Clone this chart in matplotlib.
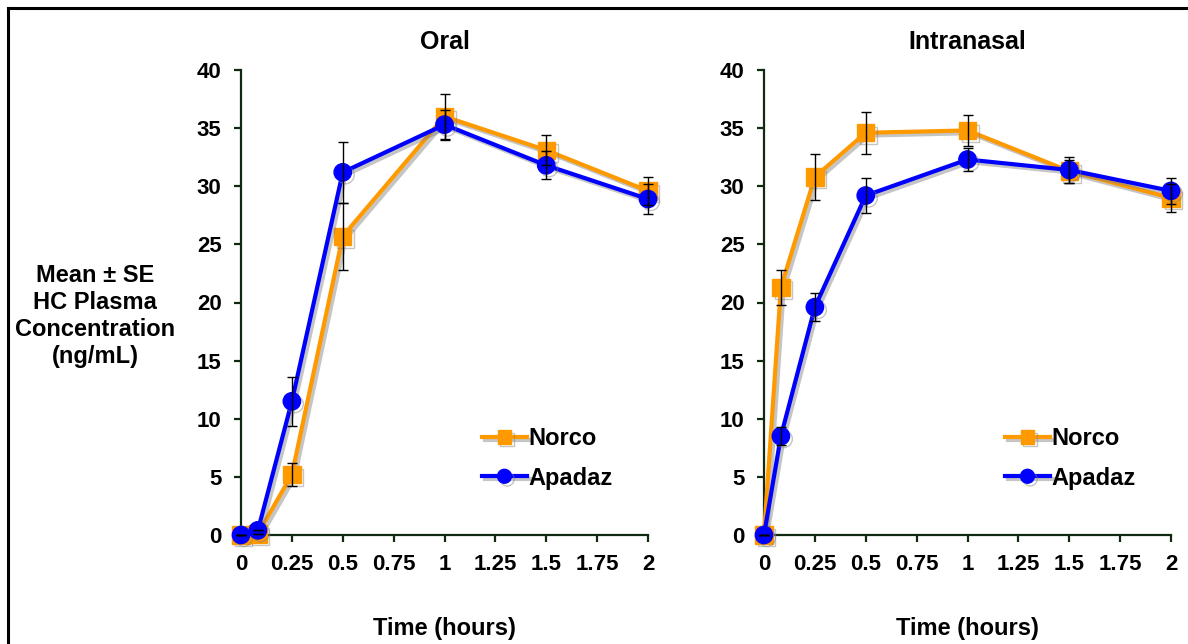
import numpy as np
import matplotlib
matplotlib.use("Agg")
import matplotlib.pyplot as plt
import matplotlib.patheffects as pe
from matplotlib.lines import Line2D

plt.rcParams["font.family"] = ["Liberation Sans", "DejaVu Sans"]
plt.rcParams["font.weight"] = "bold"

# ── Data ──────────────────────────────────────────────────────────────────────
time_h = [0, 0.083, 0.25, 0.5, 1, 1.5, 2]

oral_norco = [0, 0.1, 5.2, 25.7, 36.0, 33.1, 29.6]
oral_norco_se = [0, 0, 1.0, 2.9, 1.9, 1.3, 1.2]
oral_apadaz = [0, 0.4, 11.5, 31.2, 35.3, 31.8, 28.9]
oral_apadaz_se = [0, 0, 2.1, 2.6, 1.3, 1.2, 1.3]

nasal_norco = [0, 21.3, 30.8, 34.6, 34.8, 31.3, 29.0]
nasal_norco_se = [0, 1.5, 2.0, 1.8, 1.3, 1.0, 1.2]
nasal_apadaz = [0, 8.5, 19.6, 29.2, 32.3, 31.4, 29.6]
nasal_apadaz_se = [0, 0.8, 1.2, 1.5, 1.0, 1.1, 1.1]

x_ticks = [0, 0.25, 0.5, 0.75, 1, 1.25, 1.5, 1.75, 2]
x_labels = ["0", "0.25", "0.5", "0.75", "1", "1.25", "1.5", "1.75", "2"]
y_ticks = [0, 5, 10, 15, 20, 25, 30, 35, 40]

ORANGE = "#FF9900"
BLUE = "#0000FF"
SPINE = "#102a12"

W, H = 1188, 644
fig = plt.figure(figsize=(W / 100, H / 100), dpi=100)

shadow = [pe.SimpleLineShadow(offset=(2, -2), shadow_color="#808080", alpha=0.45),
          pe.Normal()]


def panel(rect, title, norco, norco_se, apadaz, apadaz_se):
    ax = fig.add_axes(rect)
    for y, se, col, mk, ms, lab in [
        (norco, norco_se, ORANGE, "s", 12.5, "Norco"),
        (apadaz, apadaz_se, BLUE, "o", 12.5, "Apadaz"),
    ]:
        ax.errorbar(time_h, y, yerr=se, fmt="none", ecolor="black",
                    elinewidth=1.0, capsize=3.5, capthick=1.0, zorder=4,
                    clip_on=False)
        ax.plot(time_h, y, color=col, marker=mk, markersize=ms, linewidth=3,
                markeredgecolor=col, label=lab, zorder=3, clip_on=False,
                path_effects=shadow)
    ax.set_xlim(0, 2)
    ax.set_ylim(0, 40)
    ax.set_xticks(x_ticks)
    ax.set_xticklabels(x_labels)
    ax.set_yticks(y_ticks)
    for s in ["top", "right"]:
        ax.spines[s].set_visible(False)
    for s in ["left", "bottom"]:
        ax.spines[s].set_color(SPINE)
        ax.spines[s].set_linewidth(1.6)
    ax.tick_params(axis="both", direction="out", length=5, width=1.6,
                   color=SPINE, labelsize=16)
    ax.tick_params(axis="y", pad=9)
    ax.tick_params(axis="x", pad=9)
    for lbl in ax.get_xticklabels() + ax.get_yticklabels():
        lbl.set_fontweight("bold")
    ax.set_title(title, fontsize=18, fontweight="bold", pad=15)
    ax.set_xlabel("Time (hours)", fontsize=17, fontweight="bold", labelpad=30)
    ax.legend(loc="center left", bbox_to_anchor=(0.54, 0.165), frameon=False,
              handlelength=1.9, handletextpad=0.05,
              labelspacing=0.7, markerscale=0.8,
              prop={"weight": "bold", "size": 17})
    return ax


ax_w = 407 / W
ax_h = 465 / H
ax_b = 1 - 535 / H
panel([241 / W, ax_b, ax_w, ax_h], "Oral",
      oral_norco, oral_norco_se, oral_apadaz, oral_apadaz_se)
panel([764 / W, ax_b, ax_w, ax_h], "Intranasal",
      nasal_norco, nasal_norco_se, nasal_apadaz, nasal_apadaz_se)

fig.text(95 / W, 1 - 316 / H, "Mean ± SE\nHC Plasma\nConcentration\n(ng/mL)",
         ha="center", va="center", multialignment="center",
         fontsize=17, fontweight="bold", linespacing=1.22)

# frame around the figure (top and left edges visible)
fig.add_artist(Line2D([8 / W, 1], [1 - 8 / H, 1 - 8 / H], color="black",
                      linewidth=2.2, transform=fig.transFigure))
fig.add_artist(Line2D([8 / W, 8 / W], [0, 1 - 8 / H], color="black",
                      linewidth=2.2, transform=fig.transFigure))

fig.savefig("out.png", dpi=100)
